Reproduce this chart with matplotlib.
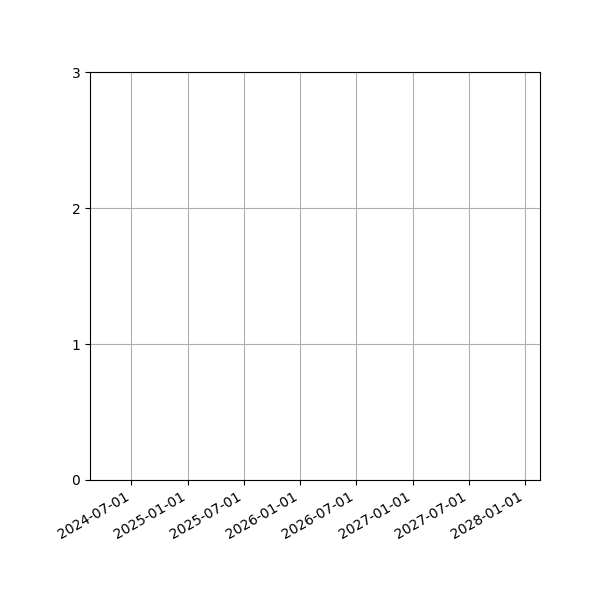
import matplotlib
matplotlib.use("Agg")
import matplotlib.pyplot as plt
import matplotlib.dates as mdates
import numpy as np

x_limits = ["2024-02-18", "2028-02-18"]
y_limits = [0, 3]
y_ticks = [0, 1, 2, 3]
tick_dates = ["2024-07-01", "2025-01-01", "2025-07-01", "2026-01-01",
              "2026-07-01", "2027-01-01", "2027-07-01", "2028-01-01"]

fig, ax = plt.subplots(figsize=(6, 6), dpi=100)
ax.set_xlim(np.datetime64(x_limits[0]), np.datetime64(x_limits[1]))
ax.set_ylim(*y_limits)
ax.set_yticks(y_ticks)
ax.set_xticks([np.datetime64(d) for d in tick_dates])
ax.xaxis.set_major_formatter(mdates.DateFormatter("%Y-%m-%d"))
ax.grid(True)
fig.autofmt_xdate()
fig.subplots_adjust(left=0.15, right=0.9, top=0.88, bottom=0.2)
fig.savefig("out.png", dpi=100)
